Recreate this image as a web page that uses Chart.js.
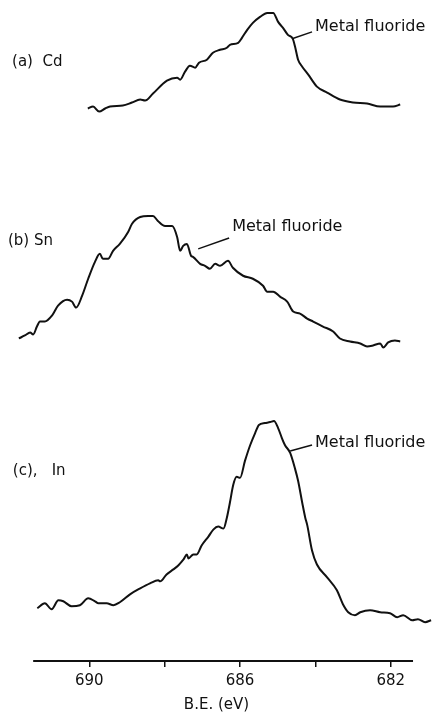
<!DOCTYPE html>
<html>
<head>
<meta charset="utf-8">
<script src="https://cdn.jsdelivr.net/npm/chart.js@4.4.0/dist/chart.umd.min.js"></script>
<style>
  html, body { margin: 0; padding: 0; background: #fff; }
  #wrap { width: 433px; height: 715px; }
</style>
</head>
<body>
<div id="wrap"><canvas id="xpsChart"></canvas></div>
<script>
// binding energies (eV) and intensities (arb. units)
const cdEnergy = [690.04, 689.90, 689.74, 689.58, 689.45, 689.11, 688.87, 688.65, 688.52, 688.31, 687.94, 687.67, 687.59, 687.46, 687.33, 687.19, 687.09, 686.88, 686.72, 686.53, 686.35, 686.27, 686.05, 685.95, 685.81, 685.66, 685.47, 685.28, 685.12, 684.99, 684.86, 684.73, 684.60, 684.54, 684.46, 684.35, 684.19, 683.96, 683.69, 683.35, 683.00, 682.63, 682.28, 681.94, 681.75];
const cdCounts = [6, 8, 3, 6, 8, 9, 12, 15, 14, 21, 34, 37, 35, 43, 49, 47, 52, 55, 62, 65, 67, 70, 72, 77, 85, 92, 98, 102, 102, 93, 87, 80, 76, 68, 55, 48, 40, 28, 22, 15, 12, 11, 8, 8, 10];

const snEnergy = [691.87, 691.71, 691.57, 691.49, 691.39, 691.31, 691.18, 690.99, 690.83, 690.59, 690.46, 690.35, 690.19, 690.03, 689.85, 689.72, 689.64, 689.50, 689.37, 689.19, 688.97, 688.87, 688.65, 688.44, 688.31, 688.18, 687.99, 687.80, 687.67, 687.59, 687.51, 687.41, 687.30, 687.25, 687.06, 686.93, 686.80, 686.66, 686.53, 686.32, 686.19, 685.92, 685.66, 685.39, 685.28, 685.12, 684.94, 684.75, 684.59, 684.41, 684.22, 684.06, 683.80, 683.53, 683.35, 683.08, 682.81, 682.63, 682.47, 682.28, 682.20, 682.07, 681.89, 681.75];
const snCounts = [15, 18, 21, 19, 27, 32, 32, 38, 48, 54, 52, 46, 58, 75, 92, 100, 95, 95, 103, 110, 122, 130, 137, 138, 138, 133, 128, 128, 117, 103, 108, 110, 98, 97, 90, 88, 85, 90, 88, 93, 86, 78, 75, 68, 62, 62, 57, 52, 42, 40, 35, 32, 27, 22, 15, 12, 10, 7, 8, 10, 6, 11, 13, 12];

const inEnergy = [691.38, 691.18, 691.00, 690.82, 690.69, 690.47, 690.25, 690.03, 689.85, 689.76, 689.54, 689.36, 689.19, 688.92, 688.65, 688.39, 688.17, 688.12, 687.95, 687.77, 687.64, 687.50, 687.41, 687.37, 687.24, 687.15, 687.02, 686.84, 686.71, 686.58, 686.44, 686.35, 686.27, 686.18, 686.09, 686.00, 685.87, 685.73, 685.60, 685.50, 685.34, 685.20, 685.10, 684.99, 684.89, 684.81, 684.67, 684.54, 684.46, 684.35, 684.27, 684.22, 684.09, 683.96, 683.69, 683.43, 683.27, 683.13, 682.95, 682.81, 682.55, 682.28, 682.02, 681.83, 681.67, 681.43, 681.28, 681.09, 680.93];
const inCounts = [19, 24, 18, 27, 26, 21, 22, 29, 26, 24, 24, 22, 25, 33, 39, 44, 47, 46, 53, 58, 62, 68, 73, 69, 73, 73, 82, 91, 98, 101, 99, 110, 125, 143, 151, 150, 167, 183, 195, 203, 205, 206, 207, 200, 190, 183, 175, 159, 147, 125, 110, 103, 77, 63, 50, 37, 23, 15, 12, 15, 17, 15, 14, 10, 12, 7, 8, 5, 7];

const tickValues = [690, 688, 686, 684, 682];
const labeledTicks = [690, 686, 682];

// vertical stacking of the three spectra
const panelBase = { cd: 549, sn: 309, in: 34 };
const ink = '#111';

// text notes, placed in data coordinates
const notes = [
  { text: '(a)  Cd', e: 692.05, v: 602, size: 15 },
  { text: 'Metal fluoride', e: 684.01, v: 637, size: 16 },
  { text: '(b) Sn', e: 692.16, v: 422, size: 15 },
  { text: 'Metal fluoride', e: 686.21, v: 436, size: 16 },
  { text: '(c),', e: 692.03, v: 191, size: 15 },
  { text: 'In', e: 691.0, v: 191, size: 15 },
  { text: 'Metal fluoride', e: 684.01, v: 219, size: 16 }
];
const leaders = [
  [684.62, 625, 684.09, 632],
  [687.11, 414, 686.29, 425],
  [684.67, 211, 684.09, 217]
];
const axisSpan = [691.49, 681.41];

function toPoints(energy, counts, base) {
  return energy.map((e, i) => ({ x: e, y: counts[i] + base }));
}

function trace(label, energy, counts, base) {
  return {
    label: label,
    data: toPoints(energy, counts, base),
    borderColor: ink,
    borderWidth: 2,
    pointRadius: 0,
    cubicInterpolationMode: 'monotone',
    fill: false,
    clip: false
  };
}

const notesPlugin = {
  id: 'notes',
  afterDraw(chart) {
    const ctx = chart.ctx;
    const xs = chart.scales.x, ys = chart.scales.y;
    ctx.save();
    ctx.strokeStyle = ink;
    ctx.lineWidth = 2;
    ctx.beginPath();
    ctx.moveTo(xs.getPixelForValue(axisSpan[0]), chart.chartArea.bottom);
    ctx.lineTo(xs.getPixelForValue(axisSpan[1]), chart.chartArea.bottom);
    ctx.stroke();

    ctx.lineWidth = 1.5;
    leaders.forEach(l => {
      ctx.beginPath();
      ctx.moveTo(xs.getPixelForValue(l[0]), ys.getPixelForValue(l[1]));
      ctx.lineTo(xs.getPixelForValue(l[2]), ys.getPixelForValue(l[3]));
      ctx.stroke();
    });

    ctx.fillStyle = ink;
    ctx.textAlign = 'left';
    ctx.textBaseline = 'middle';
    notes.forEach(n => {
      ctx.font = n.size + 'px "DejaVu Sans", sans-serif';
      ctx.fillText(n.text, xs.getPixelForValue(n.e), ys.getPixelForValue(n.v));
    });
    ctx.restore();
  }
};

const chart = new Chart(document.getElementById('xpsChart'), {
  type: 'line',
  data: {
    datasets: [
      trace('Cd', cdEnergy, cdCounts, panelBase.cd),
      trace('Sn', snEnergy, snCounts, panelBase.sn),
      trace('In', inEnergy, inCounts, panelBase.in)
    ]
  },
  options: {
    responsive: true,
    maintainAspectRatio: false,
    animation: false,
    layout: { padding: { left: 0, right: 0, top: 0, bottom: 0 }, autoPadding: false },
    plugins: { legend: { display: false }, tooltip: { enabled: false } },
    scales: {
      x: {
        type: 'linear',
        reverse: true,
        min: 680.88,
        max: 692.37,
        afterBuildTicks: scale => { scale.ticks = tickValues.map(v => ({ value: v })); },
        ticks: {
          color: ink,
          padding: 7,
          maxRotation: 0,
          font: { family: '"DejaVu Sans", sans-serif', size: 15, lineHeight: 1.0 },
          callback: v => labeledTicks.includes(v) ? String(v) : ''
        },
        grid: { drawOnChartArea: false, drawTicks: true, tickLength: 6, color: ink, lineWidth: 1.5 },
        border: { display: false },
        title: {
          display: true,
          text: 'B.E. (eV)',
          color: ink,
          font: { family: '"DejaVu Sans", sans-serif', size: 15 },
          padding: { top: 0, bottom: 1 }
        }
      },
      y: { display: false, min: 0, max: 664 }
    }
  },
  plugins: [notesPlugin]
});
</script>
</body>
</html>
